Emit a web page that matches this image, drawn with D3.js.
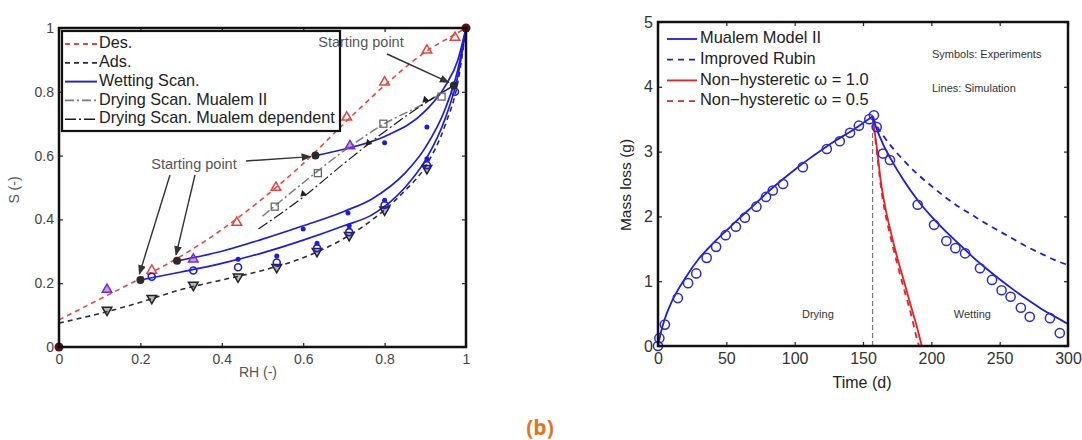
<!DOCTYPE html>
<html><head><meta charset="utf-8">
<script src="https://cdn.jsdelivr.net/npm/d3@7"></script>
<style>
body{margin:0;background:#fff;}
svg{display:block;font-family:"Liberation Sans",Arial,sans-serif;}
</style></head>
<body><svg id="c" width="1082" height="440"></svg>
<script>
// ---------- Panel A data (S vs RH) ----------
const aXTicks = [0,0.2,0.4,0.6,0.8,1];
const aYTicks = [0,0.2,0.4,0.6,0.8,1];
const desLine = [[0,0.085],[0.1,0.15],[0.2,0.215],[0.3,0.285],[0.4,0.368],[0.5,0.465],[0.6,0.575],[0.7,0.7],[0.8,0.82],[0.9,0.925],[0.97,0.978],[1,1]];
const adsLine = [[0,0.075],[0.1,0.105],[0.2,0.14],[0.3,0.18],[0.4,0.21],[0.5,0.24],[0.6,0.28],[0.7,0.34],[0.8,0.43],[0.85,0.49],[0.9,0.565],[0.95,0.7],[0.98,0.83],[1,1]];
const wet1 = [[0.2,0.21],[0.3,0.235],[0.4,0.262],[0.5,0.295],[0.6,0.335],[0.7,0.38],[0.77,0.415],[0.85,0.5],[0.9,0.585],[0.95,0.72],[0.98,0.85],[1,1]];
const wet2 = [[0.29,0.27],[0.4,0.3],[0.5,0.338],[0.6,0.38],[0.7,0.425],[0.77,0.465],[0.85,0.545],[0.9,0.625],[0.95,0.75],[0.98,0.87],[1,1]];
const wet3 = [[0.63,0.6],[0.7,0.62],[0.8,0.66],[0.9,0.74],[0.95,0.82],[0.98,0.9],[1,1]];
const dryM2 = [[0.5,0.41],[0.6,0.515],[0.7,0.615],[0.8,0.7],[0.9,0.765],[0.97,0.82]];
const dryDep = [[0.49,0.37],[0.6,0.47],[0.7,0.575],[0.8,0.675],[0.9,0.765],[0.97,0.82]];
const desPts = [[0.228,0.24],[0.437,0.39],[0.533,0.5],[0.707,0.72],[0.8,0.83],[0.904,0.93],[0.973,0.97]];
const purplePts = [[0.118,0.18],[0.33,0.275],[0.715,0.63]];
const adsPts = [[0.118,0.116],[0.228,0.153],[0.33,0.194],[0.44,0.22],[0.535,0.25],[0.634,0.3],[0.713,0.35],[0.8,0.43],[0.904,0.56]];
const blueCirc = [[0.228,0.22],[0.33,0.24],[0.44,0.25],[0.535,0.265],[0.634,0.31],[0.713,0.36],[0.8,0.445],[0.904,0.57],[0.973,0.8]];
const blueDots = [[0.44,0.275],[0.535,0.285],[0.634,0.325],[0.713,0.38],[0.8,0.46],[0.904,0.59],[0.973,0.82],[0.6,0.37],[0.71,0.42],[0.8,0.64],[0.904,0.69]];
const greySq = [[0.53,0.44],[0.636,0.545],[0.797,0.7],[0.94,0.785]];
const blackMk = [[0.6,0.48],[0.76,0.64],[0.9,0.775]];
const startPts = [[0.2,0.21],[0.29,0.27],[0.63,0.6],[0.97,0.82]];
const endPts = [[0,0],[1,1]];
const aLegend = ["Des.","Ads.","Wetting Scan.","Drying Scan. Mualem II","Drying Scan. Mualem dependent"];

// ---------- Panel B data (Mass loss vs time) ----------
const bXTicks = [0,50,100,150,200,250,300];
const bYTicks = [0,1,2,3,4,5];
const dryModel = [[0,0],[2,0.2],[5,0.42],[10,0.68],[20,1.05],[30,1.35],[40,1.58],[50,1.78],[60,1.98],[70,2.17],[80,2.37],[90,2.55],[100,2.72],[110,2.88],[120,3.03],[130,3.17],[140,3.3],[150,3.44],[157,3.54]];
const mualemWet = [[157,3.54],[160,3.35],[165,3.1],[170,2.9],[180,2.55],[190,2.25],[200,2.0],[210,1.78],[220,1.58],[230,1.38],[240,1.2],[250,1.03],[260,0.87],[270,0.72],[280,0.58],[290,0.46],[300,0.34]];
const rubinWet = [[157,3.54],[160,3.4],[165,3.24],[170,3.1],[180,2.86],[190,2.65],[200,2.47],[210,2.3],[220,2.15],[230,2.02],[240,1.89],[250,1.77],[260,1.65],[270,1.53],[280,1.43],[290,1.33],[300,1.25]];
const nonHyst10 = [[157,3.54],[160,3.08],[163,2.55],[166,2.17],[170,1.79],[175,1.37],[180,1.0],[185,0.62],[190,0.25],[193,0]];
const nonHyst05 = [[157,3.54],[160,3.02],[163,2.47],[166,2.08],[170,1.7],[175,1.27],[180,0.88],[185,0.5],[189,0.15],[191,0]];
const expPts = [[0,0],[1,0.12],[5,0.33],[14.5,0.74],[22,0.97],[28,1.12],[35.6,1.36],[42.5,1.53],[49.5,1.71],[57,1.84],[63.6,1.98],[72,2.15],[79,2.3],[84,2.4],[91.5,2.5],[106,2.76],[123.5,3.04],[133,3.16],[140.5,3.29],[147,3.4],[154.6,3.5],[158,3.56],[160,3.38],[164.6,2.97],[169.7,2.87],[190,2.18],[202,1.87],[211,1.62],[217.6,1.51],[224.7,1.43],[235.6,1.2],[244.4,1.02],[251.4,0.86],[258,0.76],[265.5,0.59],[272,0.45],[286.8,0.43],[294,0.2]];
const switchTime = [157];
const switchTop = [3.5];
const bLegend = ["Mualem Model II","Improved Rubin","Non\u2212hysteretic \u03c9 = 1.0","Non\u2212hysteretic \u03c9 = 0.5"];

// =====================================================
const svg = d3.select("#c");
const tickCol = "#444";

function frame(g, x, y, xt, yt, xf, yf, fs){
  const [x0,x1]=x.range(), [y0,y1]=y.range();
  const ax = g.append("g").attr("transform",`translate(0,${y0})`)
    .call(d3.axisBottom(x).tickValues(xt).tickSize(-4).tickPadding(7).tickFormat(xf));
  const ay = g.append("g").attr("transform",`translate(${x0},0)`)
    .call(d3.axisLeft(y).tickValues(yt).tickSize(-4).tickPadding(5).tickFormat(yf));
  const at = g.append("g").attr("transform",`translate(0,${y1})`)
    .call(d3.axisTop(x).tickValues(xt).tickSize(-4).tickFormat(""));
  const ar = g.append("g").attr("transform",`translate(${x1},0)`)
    .call(d3.axisRight(y).tickValues(yt).tickSize(-4).tickFormat(""));
  [ax,ay,at,ar].forEach(a=>{a.select(".domain").remove();
    a.selectAll("line").attr("stroke","#222").attr("stroke-width",1.2);
    a.selectAll("text").attr("fill",tickCol).style("font-size",fs).style("font-family","Liberation Sans, Arial, sans-serif");});
  return g;
}
function border(g,x,y){
  const [x0,x1]=x.range(), [y0,y1]=y.range();
  g.append("rect").attr("x",x0).attr("y",y1).attr("width",x1-x0).attr("height",y0-y1)
   .attr("fill","none").attr("stroke","#111").attr("stroke-width",2.5);
}

// ---------------- Panel A ----------------
const xa = d3.scaleLinear([0,1],[59,466]);
const ya = d3.scaleLinear([0,1],[347,28]);
const ga = svg.append("g");
const fa = d=> d===0?"0":d===1?"1":d3.format(".1f")(d);
frame(ga, xa, ya, aXTicks, aYTicks, fa, fa, "14px");
const la = d3.line().x(d=>xa(d[0])).y(d=>ya(d[1])).curve(d3.curveMonotoneX);

const aStyles = [
  {c:"#e8453c",w:1.6,da:"5,4"},
  {c:"#2c2c3c",w:1.6,da:"5,4"},
  {c:"#1c1ce0",w:1.7,da:null},
  {c:"#7a7a7a",w:1.5,da:"9,3,2,3"},
  {c:"#1a1a1a",w:1.2,da:"11,3,2,3"}
];
function pathA(data, s){
  ga.append("path").attr("d",la(data)).attr("fill","none").attr("stroke",s.c)
    .attr("stroke-width",s.w).attr("stroke-dasharray",s.da);
}
pathA(desLine,aStyles[0]);
pathA(adsLine,aStyles[1]);
pathA(wet1,aStyles[2]); pathA(wet2,aStyles[2]); pathA(wet3,aStyles[2]);
pathA(dryM2,aStyles[3]); pathA(dryDep,aStyles[4]);

const tri = d3.symbol().type(d3.symbolTriangle).size(40);
ga.selectAll(".dp").data(desPts).join("path").attr("d",tri)
  .attr("transform",d=>`translate(${xa(d[0])},${ya(d[1])})`)
  .attr("fill","none").attr("stroke","#e8453c").attr("stroke-width",1.5);
ga.selectAll(".pp").data(purplePts).join("path").attr("d",tri)
  .attr("transform",d=>`translate(${xa(d[0])},${ya(d[1])})`)
  .attr("fill","#8a3ad0").attr("fill-opacity",0.5).attr("stroke","#7a30c8").attr("stroke-width",1.5);
ga.selectAll(".ap").data(adsPts).join("path").attr("d",tri)
  .attr("transform",d=>`translate(${xa(d[0])},${ya(d[1])}) rotate(180)`)
  .attr("fill","#333").attr("fill-opacity",0.35).attr("stroke","#222").attr("stroke-width",1.5);
ga.selectAll(".bc").data(blueCirc).join("circle")
  .attr("cx",d=>xa(d[0])).attr("cy",d=>ya(d[1])).attr("r",3.5)
  .attr("fill","none").attr("stroke","#1c1ce0").attr("stroke-width",1.6);
ga.selectAll(".bd").data(blueDots).join("circle")
  .attr("cx",d=>xa(d[0])).attr("cy",d=>ya(d[1])).attr("r",2.5)
  .attr("fill","#1c1ce0");
ga.selectAll(".gs").data(greySq).join("rect")
  .attr("x",d=>xa(d[0])-3.5).attr("y",d=>ya(d[1])-3.5).attr("width",7).attr("height",7)
  .attr("fill","none").attr("stroke","#666").attr("stroke-width",1.3);
ga.selectAll(".bm").data(blackMk).join("path").attr("d",d3.symbol().type(d3.symbolTriangle).size(22))
  .attr("transform",d=>`translate(${xa(d[0])},${ya(d[1])}) rotate(-135)`)
  .attr("fill","#222");
ga.selectAll(".sp").data(startPts).join("circle")
  .attr("cx",d=>xa(d[0])).attr("cy",d=>ya(d[1])).attr("r",4).attr("fill","#2a2a2a");
ga.selectAll(".ep").data(endPts).join("circle")
  .attr("cx",d=>xa(d[0])).attr("cy",d=>ya(d[1])).attr("r",4.5).attr("fill","#5a1010");

// legend A
ga.append("rect").attr("x",62).attr("y",31).attr("width",278).attr("height",100)
  .attr("fill","#fff").attr("stroke","#111").attr("stroke-width",2.2);
aLegend.forEach((t,i)=>{
  const yy = 44 + i*18.8;
  const s = aStyles[i];
  ga.append("line").attr("x1",65).attr("x2",97).attr("y1",yy).attr("y2",yy)
    .attr("stroke",s.c).attr("stroke-width",s.w+0.2).attr("stroke-dasharray",s.da);
  ga.append("text").attr("x",99).attr("y",yy).attr("dominant-baseline","middle")
    .attr("fill","#222").style("font-size","16.2px").text(t);
});

// annotations
svg.append("defs").append("marker").attr("id","ah").attr("viewBox","0 0 10 10")
  .attr("refX",9).attr("refY",5).attr("markerWidth",7).attr("markerHeight",7).attr("orient","auto")
  .append("path").attr("d","M0,1 L10,5 L0,9 z").attr("fill","#333");
function arrow(x1,y1,x2,y2){
  ga.append("line").attr("x1",x1).attr("y1",y1).attr("x2",x2).attr("y2",y2)
   .attr("stroke","#333").attr("stroke-width",1.4).attr("marker-end","url(#ah)");
}
ga.append("text").attr("x",194).attr("y",165).attr("text-anchor","middle").attr("dominant-baseline","middle")
  .attr("fill","#555").style("font-size","14.5px").text("Starting point");
arrow(246,161,xa(0.63)-5,ya(0.6)+1);
arrow(170,175,xa(0.2)-1,ya(0.21)-6);
arrow(195,175,xa(0.29)-1,ya(0.27)-6);
ga.append("text").attr("x",361).attr("y",43).attr("text-anchor","middle").attr("dominant-baseline","middle")
  .attr("fill","#555").style("font-size","14.5px").text("Starting point");
arrow(387,54,xa(0.97)-5,ya(0.82)-3);

border(ga,xa,ya);
ga.append("text").attr("transform","translate(15,190) rotate(-90)").attr("text-anchor","middle")
  .attr("dominant-baseline","middle").attr("fill","#555").style("font-size","14px").text("S (-)");
ga.append("text").attr("x",258).attr("y",377).attr("text-anchor","middle")
  .attr("fill","#555").style("font-size","14px").text("RH (-)");

// ---------------- Panel B ----------------
const xb = d3.scaleLinear([0,300],[658,1068]);
const yb = d3.scaleLinear([0,5],[346,22]);
const gb = svg.append("g");
frame(gb, xb, yb, bXTicks, bYTicks, d3.format("d"), d3.format("d"), "16px");
gb.selectAll(".tick text").attr("fill","#333");
const lb = d3.line().x(d=>xb(d[0])).y(d=>yb(d[1])).curve(d3.curveMonotoneX);
const bStyles = [
  {c:"#1c1ce0",w:1.8,da:null},
  {c:"#1c1ce0",w:1.8,da:"6,5"},
  {c:"#e82020",w:1.8,da:null},
  {c:"#e82020",w:1.8,da:"6,5"}
];
gb.append("line").attr("x1",xb(switchTime[0])).attr("x2",xb(switchTime[0]))
  .attr("y1",yb(0)).attr("y2",yb(switchTop[0]))
  .attr("stroke","#777").attr("stroke-width",1.2).attr("stroke-dasharray","5,3");
function pathB(data,s){
  gb.append("path").attr("d",lb(data)).attr("fill","none").attr("stroke",s.c)
    .attr("stroke-width",s.w).attr("stroke-dasharray",s.da);
}
pathB(rubinWet,bStyles[1]);
pathB(nonHyst05,bStyles[3]);
pathB(nonHyst10,bStyles[2]);
pathB(dryModel,bStyles[0]);
pathB(mualemWet,bStyles[0]);
gb.selectAll(".ex").data(expPts).join("circle")
  .attr("cx",d=>xb(d[0])).attr("cy",d=>yb(d[1])).attr("r",4.6)
  .attr("fill","none").attr("stroke","#2a2ad8").attr("stroke-width",1.5);
bLegend.forEach((t,i)=>{
  const yy = 39 + i*20.7;
  const s = bStyles[i];
  gb.append("line").attr("x1",667).attr("x2",697).attr("y1",yy).attr("y2",yy)
    .attr("stroke",s.c).attr("stroke-width",s.w).attr("stroke-dasharray",s.da);
  gb.append("text").attr("x",700).attr("y",yy).attr("dominant-baseline","middle")
    .attr("fill","#222").style("font-size","16.4px").text(t);
});
gb.append("text").attr("x",932).attr("y",55).attr("dominant-baseline","middle")
  .attr("fill","#333").style("font-size","11px").text("Symbols: Experiments");
gb.append("text").attr("x",932).attr("y",89).attr("dominant-baseline","middle")
  .attr("fill","#333").style("font-size","11px").text("Lines: Simulation");
gb.append("text").attr("x",xb(117)).attr("y",315).attr("text-anchor","middle").attr("dominant-baseline","middle")
  .attr("fill","#333").style("font-size","11px").text("Drying");
gb.append("text").attr("x",xb(230)).attr("y",315).attr("text-anchor","middle").attr("dominant-baseline","middle")
  .attr("fill","#333").style("font-size","11px").text("Wetting");
border(gb,xb,yb);
gb.append("text").attr("transform","translate(627,185) rotate(-90)").attr("text-anchor","middle")
  .attr("dominant-baseline","middle").attr("fill","#222").style("font-size","15.5px").text("Mass loss (g)");
gb.append("text").attr("x",862).attr("y",388).attr("text-anchor","middle")
  .attr("fill","#222").style("font-size","16px").text("Time (d)");

svg.append("text").attr("x",540).attr("y",435).attr("text-anchor","middle")
  .attr("fill","#e07424").style("font-size","21px").style("font-weight","bold")
  .style("font-family","Open Sans, sans-serif").text("(b)");
</script></body></html>
